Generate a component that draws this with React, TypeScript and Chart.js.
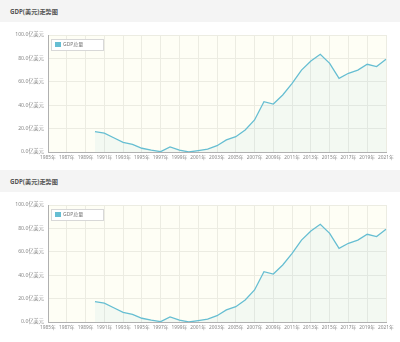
import React, { useEffect, useRef } from "react";
import { Chart, registerables } from "chart.js";

Chart.register(...registerables);

const years: string[] = [];
for (let y = 1985; y <= 2021; y++) years.push(`${y}年`);

// GDP values (亿美元), 1985–2021; no data before 1990
const gdpValues: (number | null)[] = [
  null, null, null, null, null,
  17.4, 16.2, 12.2, 8.3, 6.6, 3.2, 1.6, 0.3, 4.3, 1.7,
  0.0, 1.2, 2.5, 5.4, 10.3, 13.1, 18.8, 27.4, 43.0, 41.0,
  48.7, 58.7, 70.0, 77.8, 83.5, 75.8, 63.0, 67.3, 70.0, 75.0,
  73.0, 79.2,
];

const yTicks = [0, 20, 40, 60, 80, 100];
const titleText = "GDP(美元)走势图";
const seriesLabel = "GDP总量";

const FONT = "'Noto Sans', 'Noto Sans CJK SC', sans-serif";
const LINE = "#66bed2";

const bgPlugin = {
  id: "plotBg",
  beforeDraw(chart: any) {
    const { ctx, chartArea } = chart;
    ctx.save();
    ctx.fillStyle = "#fefef5";
    ctx.fillRect(chartArea.left, chartArea.top, chartArea.right - chartArea.left, chartArea.bottom - chartArea.top);
    ctx.restore();
  },
};

const legendPlugin = {
  id: "boxLegend",
  afterDraw(chart: any) {
    const { ctx, chartArea } = chart;
    const ds = chart.data.datasets[0];
    const x = chartArea.left + 3;
    const y = chartArea.top + 4;
    ctx.save();
    ctx.fillStyle = "#ffffff";
    ctx.fillRect(x, y, 52, 11);
    ctx.strokeStyle = "#d8d8d8";
    ctx.lineWidth = 1;
    ctx.strokeRect(x + 0.5, y + 0.5, 52, 11);
    ctx.fillStyle = ds.borderColor;
    ctx.fillRect(x + 4, y + 3, 6, 5);
    ctx.fillStyle = "#777";
    ctx.font = `5px ${FONT}`;
    ctx.textBaseline = "middle";
    ctx.fillText(ds.label, x + 12, y + 6);
    ctx.restore();
  },
};

function GdpChart() {
  const ref = useRef<HTMLCanvasElement | null>(null);
  useEffect(() => {
    if (!ref.current) return;
    const chart = new Chart(ref.current, {
      type: "line",
      data: {
        labels: years,
        datasets: [
          {
            label: seriesLabel,
            data: gdpValues,
            borderColor: LINE,
            backgroundColor: "rgba(102,190,210,0.07)",
            borderWidth: 1.3,
            fill: "origin",
            pointRadius: 0,
            tension: 0,
            spanGaps: false,
          },
        ],
      },
      options: {
        responsive: false,
        animation: false,
        layout: { padding: { top: 13, right: 14, left: 0, bottom: 0 } },
        plugins: { legend: { display: false }, tooltip: { enabled: false } },
        scales: {
          x: {
            offset: false,
            grid: {
              drawTicks: false,
              color: (c: any) => (c.index % 2 === 0 ? "#ecece2" : "transparent"),
            },
            border: { color: "#b0b0b0" },
            ticks: {
              autoSkip: false,
              maxRotation: 0,
              padding: 3,
              color: "#888",
              font: { size: 4.8, family: FONT },
              callback: (_v: any, i: number) => (i % 2 === 0 ? years[i] : ""),
            },
            afterFit: (s: any) => {
              s.height = 18;
            },
          },
          y: {
            min: 0,
            max: 100,
            afterBuildTicks: (s: any) => {
              s.ticks = yTicks.map((v) => ({ value: v }));
            },
            grid: { drawTicks: false, color: "#ecece2" },
            border: { color: "#b0b0b0" },
            ticks: {
              padding: 4,
              color: "#888",
              font: { size: 5.2, family: FONT },
              callback: (v: any) => `${Number(v).toFixed(1)}亿美元`,
            },
            afterFit: (s: any) => {
              s.width = 48;
            },
          },
        },
      },
      plugins: [bgPlugin, legendPlugin],
    });
    return () => chart.destroy();
  }, []);
  return <canvas ref={ref} width={400} height={148} style={{ display: "block" }} />;
}

function Panel() {
  return (
    <div style={{ width: 400, height: 170 }}>
      <div
        style={{
          height: 22,
          background: "#f4f4f4",
          display: "flex",
          alignItems: "center",
          paddingLeft: 10,
          boxSizing: "border-box",
          fontFamily: FONT,
          fontSize: 6.2,
          fontWeight: "bold",
          color: "#555",
        }}
      >
        {titleText}
      </div>
      <GdpChart />
    </div>
  );
}

export default function App() {
  useEffect(() => {
    document.body.style.margin = "0";
    document.body.style.background = "#fff";
  }, []);
  return (
    <div style={{ width: 400, height: 342, background: "#fff" }}>
      <Panel />
      <Panel />
    </div>
  );
}
